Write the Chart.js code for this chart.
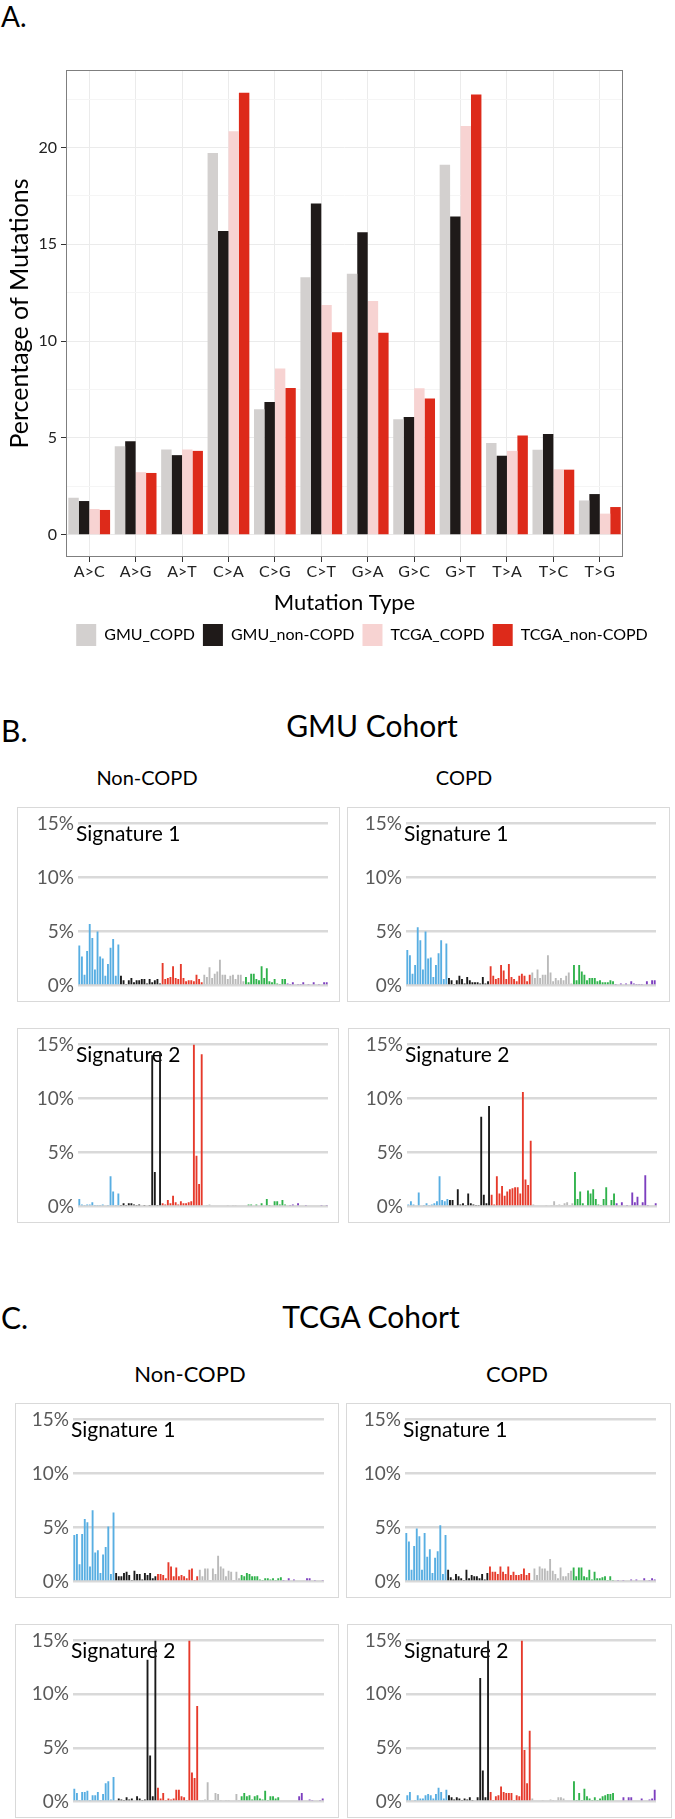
<!DOCTYPE html>
<html>
<head>
<meta charset="utf-8">
<script src="https://cdn.jsdelivr.net/npm/chart.js@4.4.0/dist/chart.umd.min.js"></script>
<style>
body { margin:0; width:675px; height:1819px; position:relative; background:#fff; font-family:Lato, sans-serif; overflow:hidden; }
.txt { position:absolute; line-height:1.2; white-space:nowrap; color:#000; }
.ctr { width:400px; text-align:center; }
.box { position:absolute; border:1px solid #d9d9d9; box-sizing:border-box; }
.box canvas { display:block; }
</style>
</head>
<body>
<div class="txt" style="left:1px;top:0px;font-size:28px">A.</div>
<div style="position:absolute;left:0;top:0"><canvas id="chartA" width="724" height="656"></canvas></div>

<div class="txt" style="left:1px;top:712px;font-size:30px">B.</div>
<div class="txt ctr" style="left:172px;top:707px;font-size:30px">GMU Cohort</div>
<div class="txt ctr" style="left:-53px;top:765px;font-size:20px">Non-COPD</div>
<div class="txt ctr" style="left:264px;top:765px;font-size:20px">COPD</div>

<div class="txt" style="left:1px;top:1299px;font-size:30px">C.</div>
<div class="txt ctr" style="left:171px;top:1298px;font-size:30px">TCGA Cohort</div>
<div class="txt ctr" style="left:-10px;top:1361px;font-size:22px">Non-COPD</div>
<div class="txt ctr" style="left:317px;top:1361px;font-size:22px">COPD</div>

<script>
// Panel A: percentage of mutations by substitution type
const mutationTypes = ['A>C', 'A>G', 'A>T', 'C>A', 'C>G', 'C>T', 'G>A', 'G>C', 'G>T', 'T>A', 'T>C', 'T>G'];
const gmuCopd     = [1.91, 4.57, 4.40, 19.71, 6.48, 13.30, 13.48, 5.97, 19.11, 4.74, 4.39, 1.77];
const gmuNonCopd  = [1.74, 4.83, 4.11, 15.68, 6.86, 17.11, 15.62, 6.08, 16.44, 4.08, 5.20, 2.10];
const tcgaCopd    = [1.33, 3.23, 4.40, 20.84, 8.58, 11.87, 12.07, 7.56, 21.11, 4.33, 3.38, 1.09];
const tcgaNonCopd = [1.28, 3.19, 4.33, 22.83, 7.58, 10.46, 10.43, 7.03, 22.74, 5.12, 3.36, 1.43];
const yTicksA = [0, 5, 10, 15, 20];
const yGridA = [0, 2.5, 5, 7.5, 10, 12.5, 15, 17.5, 20, 22.5];

// Panels B and C: 96 trinucleotide contexts, grouped by substitution
const substitutions = ['C>A', 'C>G', 'C>T', 'T>A', 'T>C', 'T>G'];
const flanks = ['A', 'C', 'G', 'T'];
const sigTicks = [0, 5, 10, 15];

const gmuNonCopdSig1 = [
  3.7, 2.7, 1.0, 3.2, 5.7, 4.4, 1.5, 5.0, 2.7, 2.5, 0.9, 2.0, 3.5, 4.3, 0.9, 3.8,
  0.9, 0.5, 0.1, 0.5, 0.7, 0.3, 0.5, 0.5, 0.6, 0.6, 0.2, 0.6, 0.3, 0.5, 0.6, 0.2,
  2.1, 0.6, 0.7, 0.8, 1.8, 0.7, 0.6, 2.0, 0.7, 0.4, 0.5, 0.5, 0.4, 1.0, 0.6, 0.3,
  1.0, 0.8, 1.7, 0.7, 1.1, 1.3, 2.4, 1.0, 1.0, 0.6, 0.9, 1.0, 0.6, 1.0, 1.0, 0.4,
  0.8, 0.3, 1.1, 1.1, 0.6, 0.5, 1.8, 0.7, 1.6, 0.4, 0.3, 0.6, 0.2, 0.1, 0.6, 0.6,
  0.2, 0.1, 0.3, 0.0, 0.1, 0.1, 0.3, 0.0, 0.1, 0.0, 0.3, 0.0, 0.1, 0.0, 0.3, 0.3];
const gmuCopdSig1 = [
  3.3, 2.8, 1.1, 1.9, 5.4, 4.2, 1.5, 5.0, 2.5, 2.6, 0.8, 1.9, 3.0, 4.2, 0.6, 3.9,
  0.7, 0.5, 0.1, 0.5, 0.9, 0.6, 0.2, 0.8, 0.5, 0.3, 0.3, 0.3, 0.2, 0.8, 0.2, 0.4,
  1.8, 0.9, 0.6, 0.7, 1.9, 1.4, 0.6, 2.0, 0.8, 0.6, 0.4, 0.9, 1.1, 0.9, 0.4, 1.0,
  1.2, 0.7, 1.5, 0.7, 1.0, 1.0, 2.8, 1.2, 0.4, 0.7, 0.5, 0.7, 0.5, 0.9, 1.2, 0.2,
  1.9, 0.5, 1.9, 1.3, 1.0, 0.5, 0.7, 0.7, 0.7, 0.4, 0.5, 0.3, 0.3, 0.3, 0.5, 0.4,
  0.1, 0.0, 0.2, 0.0, 0.2, 0.0, 0.4, 0.2, 0.1, 0.1, 0.1, 0.0, 0.4, 0.0, 0.5, 0.5];
const gmuNonCopdSig2 = [
  0.7, 0.2, 0.1, 0.2, 0.2, 0.4, 0.1, 0.1, 0.1, 0.2, 0.0, 0.1, 2.8, 1.4, 0.1, 1.2,
  0.1, 0.3, 0.1, 0.3, 0.3, 0.2, 0.1, 0.2, 0.0, 0.1, 0.0, 0.1, 14.0, 3.2, 0.1, 14.3,
  0.3, 0.2, 0.6, 0.3, 1.0, 0.4, 0.2, 0.5, 0.3, 0.3, 0.4, 0.5, 15.0, 4.7, 2.1, 14.1,
  0.0, 0.1, 0.2, 0.0, 0.0, 0.0, 0.0, 0.0, 0.0, 0.1, 0.0, 0.1, 0.1, 0.0, 0.0, 0.0,
  0.0, 0.2, 0.2, 0.0, 0.2, 0.0, 0.3, 0.0, 0.7, 0.1, 0.0, 0.5, 0.5, 0.2, 0.6, 0.2,
  0.0, 0.1, 0.2, 0.0, 0.3, 0.0, 0.0, 0.1, 0.0, 0.0, 0.0, 0.0, 0.0, 0.1, 0.0, 0.1];
const gmuCopdSig2 = [
  0.2, 0.5, 0.2, 0.0, 1.3, 0.0, 0.1, 0.3, 0.1, 0.2, 0.3, 0.5, 2.8, 0.6, 0.5, 0.7,
  0.6, 0.6, 0.0, 1.6, 0.2, 0.3, 0.1, 1.2, 0.3, 0.2, 0.1, 0.1, 8.3, 1.1, 0.3, 9.3,
  1.1, 0.2, 2.8, 1.2, 1.9, 1.0, 1.4, 1.6, 1.7, 1.8, 1.8, 1.2, 10.6, 2.5, 2.0, 6.1,
  0.2, 0.0, 0.0, 0.0, 0.0, 0.1, 0.0, 0.1, 0.5, 0.1, 0.2, 0.1, 0.3, 0.4, 0.1, 0.3,
  3.2, 0.7, 1.4, 0.3, 0.0, 1.5, 1.2, 1.6, 0.7, 0.2, 0.1, 0.7, 1.8, 0.0, 0.6, 1.2,
  0.3, 0.0, 0.4, 0.0, 0.1, 0.0, 1.3, 0.4, 0.9, 0.0, 0.4, 2.9, 0.1, 0.0, 0.0, 0.3];
const tcgaNonCopdSig1 = [
  4.3, 4.4, 1.6, 4.4, 5.8, 5.5, 1.4, 6.6, 2.7, 2.9, 0.8, 2.5, 3.2, 5.1, 0.7, 6.4,
  0.8, 0.5, 0.5, 0.8, 0.9, 0.6, 0.1, 1.0, 0.7, 0.7, 0.2, 0.8, 0.6, 0.8, 0.3, 0.5,
  0.7, 0.7, 0.6, 0.3, 1.8, 1.4, 0.5, 1.3, 0.5, 0.6, 0.5, 0.3, 1.1, 1.2, 0.1, 0.5,
  1.1, 0.5, 1.2, 1.2, 0.1, 1.2, 0.7, 2.4, 1.4, 1.2, 0.5, 1.0, 0.9, 0.1, 0.9, 0.3,
  0.6, 0.5, 0.8, 0.7, 0.5, 0.5, 0.5, 0.2, 0.1, 0.3, 0.3, 0.2, 0.3, 0.1, 0.3, 0.4,
  0.1, 0.0, 0.3, 0.0, 0.2, 0.0, 0.0, 0.0, 0.0, 0.3, 0.3, 0.0, 0.1, 0.0, 0.0, 0.1];
const tcgaCopdSig1 = [
  4.5, 3.7, 1.1, 3.3, 4.9, 4.2, 1.1, 4.5, 2.3, 3.0, 0.8, 2.2, 2.8, 5.2, 0.7, 4.3,
  1.1, 0.4, 0.2, 0.7, 0.5, 0.3, 0.1, 1.1, 0.3, 0.6, 0.5, 0.5, 0.3, 0.7, 0.2, 0.8,
  1.4, 0.9, 0.9, 0.7, 1.4, 0.9, 0.7, 1.4, 0.6, 0.9, 0.6, 0.6, 0.7, 1.2, 0.6, 0.8,
  0.1, 1.2, 0.6, 1.4, 1.2, 1.2, 1.0, 2.1, 1.0, 0.7, 0.3, 1.3, 0.5, 0.5, 0.8, 1.0,
  1.3, 0.5, 1.3, 1.3, 0.5, 0.4, 1.1, 0.2, 0.9, 0.3, 0.3, 0.4, 0.5, 0.1, 0.5, 0.1,
  0.0, 0.1, 0.0, 0.1, 0.0, 0.0, 0.2, 0.0, 0.2, 0.0, 0.0, 0.3, 0.0, 0.1, 0.3, 0.2];
const tcgaNonCopdSig2 = [
  1.2, 0.8, 0.1, 0.9, 0.9, 1.0, 0.1, 0.6, 0.6, 0.9, 0.1, 0.7, 1.7, 1.9, 0.2, 2.3,
  0.0, 0.3, 0.2, 0.1, 0.4, 0.2, 0.3, 0.0, 0.5, 0.3, 0.1, 0.2, 13.2, 4.3, 0.5, 15.0,
  1.3, 0.3, 0.8, 0.1, 0.3, 0.2, 0.3, 1.1, 1.1, 0.5, 0.4, 0.1, 15.0, 2.7, 2.2, 8.9,
  0.1, 0.1, 0.2, 1.8, 0.1, 0.1, 0.8, 0.7, 0.1, 0.0, 0.1, 0.1, 0.0, 0.0, 0.7, 0.1,
  0.5, 0.8, 0.5, 0.6, 0.2, 0.5, 0.6, 0.3, 0.2, 1.0, 0.1, 0.5, 0.5, 0.3, 0.4, 0.0,
  0.0, 0.0, 0.0, 0.0, 0.0, 0.0, 0.5, 0.8, 0.0, 0.0, 0.2, 0.1, 0.0, 0.0, 0.1, 0.3];
const tcgaCopdSig2 = [
  0.6, 0.9, 0.0, 0.1, 0.6, 0.3, 0.3, 0.6, 0.7, 0.6, 0.3, 0.7, 1.3, 0.9, 0.3, 1.1,
  0.6, 0.4, 0.2, 0.4, 0.3, 0.1, 0.3, 0.2, 0.4, 0.1, 0.0, 0.4, 11.5, 2.9, 0.4, 15.0,
  0.9, 0.1, 0.5, 0.6, 1.4, 0.9, 0.8, 0.8, 0.8, 0.1, 0.6, 0.5, 15.0, 4.8, 1.7, 6.6,
  0.3, 0.0, 0.0, 0.0, 0.1, 0.0, 0.0, 0.2, 0.1, 0.0, 0.4, 0.4, 0.3, 0.0, 0.0, 0.0,
  1.9, 0.1, 0.8, 0.1, 1.2, 0.5, 0.3, 0.1, 0.4, 0.1, 0.3, 0.5, 0.6, 0.7, 0.7, 0.8,
  0.0, 0.0, 0.0, 0.4, 0.0, 0.4, 0.4, 0.0, 0.0, 0.0, 0.3, 0.0, 0.0, 0.2, 0.3, 1.1];

const substitutionColors = ['#58aee2', '#1a1a1a', '#e63a2b', '#bababa', '#2fb24b', '#7d3fbf'];

Chart.defaults.font.family = 'Lato';

var signatureLabels = [];
var signatureColors = [];
substitutions.forEach((sub, i) => {
    flanks.forEach(left => {
        flanks.forEach(right => {
            signatureLabels.push(left + '[' + sub + ']' + right);
            signatureColors.push(substitutionColors[i]);
        });
    });
});

const panelBorder = {
    id: 'panelBorder',
    afterDatasetsDraw(chart, args, opts) {
        const a = chart.chartArea, ctx = chart.ctx;
        ctx.save();
        ctx.strokeStyle = opts.color;
        ctx.lineWidth = 1;
        ctx.strokeRect(a.left + 0.5, a.top + 0.5, a.width - 1, a.height - 1);
        ctx.restore();
    }
};

const sigLabel = {
    id: 'sigLabel',
    beforeDatasetsDraw(chart, args, opts) {
        const a = chart.chartArea, ctx = chart.ctx;
        ctx.save();
        ctx.font = '21px Lato';
        ctx.fillStyle = '#000';
        ctx.textBaseline = 'middle';
        ctx.fillText(opts.text, a.left - 2, a.top + 11);
        ctx.restore();
    }
};

// canvas runs past the page edge; an empty right axis keeps the plot narrow
// so the centred legend lands where the original has it
new Chart(document.getElementById('chartA'), {
    type: 'bar',
    data: {
        labels: mutationTypes,
        datasets: [
            { label: 'GMU_COPD', data: gmuCopd, backgroundColor: '#d3d0cf' },
            { label: 'GMU_non-COPD', data: gmuNonCopd, backgroundColor: '#1f1a19' },
            { label: 'TCGA_COPD', data: tcgaCopd, backgroundColor: '#f7d3d2' },
            { label: 'TCGA_non-COPD', data: tcgaNonCopd, backgroundColor: '#dd2a1a' },
        ]
    },
    options: {
        responsive: false,
        animation: false,
        layout: { padding: { top: 70, right: 0, left: 0, bottom: 0 } },
        datasets: { bar: { categoryPercentage: 0.9, barPercentage: 1.0 } },
        plugins: {
            legend: {
                position: 'bottom',
                align: 'center',
                labels: { boxWidth: 20, boxHeight: 22, padding: 8, color: '#000', font: { size: 16 } }
            },
            tooltip: { enabled: false },
            panelBorder: { color: '#7f7f7f' }
        },
        scales: {
            x: {
                grid: { offset: false, color: '#ebebeb', tickColor: '#333', tickLength: 5 },
                border: { display: false },
                ticks: { color: '#222', padding: 0, font: { size: 16 } },
                title: { display: true, text: 'Mutation Type', color: '#000', font: { size: 22 }, padding: { top: 0, bottom: 0 } },
                afterFit: s => { s.height = 59; }
            },
            y: {
                min: -1.15,
                max: 24,
                afterBuildTicks: s => { s.ticks = yGridA.map(v => ({ value: v })); },
                grid: {
                    color: c => yTicksA.includes(c.tick.value) ? '#ebebeb' : '#f5f5f5',
                    tickColor: c => yTicksA.includes(c.tick.value) ? '#333' : 'rgba(0,0,0,0)',
                    tickLength: 5
                },
                border: { display: false },
                ticks: {
                    color: '#222',
                    padding: 4,
                    font: { size: 16 },
                    callback: v => yTicksA.includes(v) ? v : ''
                },
                title: { display: true, text: 'Percentage of Mutations', color: '#000', font: { size: 25 }, padding: { top: 5, bottom: 0 } },
                afterFit: s => { s.width = 66; }
            },
            spacer: {
                position: 'right',
                grid: { display: false },
                border: { display: false },
                ticks: { display: false },
                afterFit: s => { s.width = 101; }
            }
        }
    },
    plugins: [panelBorder]
});

// box = outer frame, plot = [left, top, right, bottom] of the bar area
const signaturePanels = [
    { values: gmuNonCopdSig1,  name: 'Signature 1', box: [17, 807, 323, 195],  plot: [78, 820, 328, 986] },
    { values: gmuCopdSig1,     name: 'Signature 1', box: [347, 807, 323, 195], plot: [406, 820, 656, 986] },
    { values: gmuNonCopdSig2,  name: 'Signature 2', box: [17, 1028, 322, 195], plot: [78, 1042, 328, 1208] },
    { values: gmuCopdSig2,     name: 'Signature 2', box: [348, 1028, 322, 195], plot: [407, 1042, 657, 1208] },
    { values: tcgaNonCopdSig1, name: 'Signature 1', box: [15, 1403, 324, 195], plot: [73, 1417, 324, 1583] },
    { values: tcgaCopdSig1,    name: 'Signature 1', box: [346, 1403, 325, 195], plot: [405, 1417, 656, 1583] },
    { values: tcgaNonCopdSig2, name: 'Signature 2', box: [15, 1624, 324, 194], plot: [73, 1637, 324, 1803] },
    { values: tcgaCopdSig2,    name: 'Signature 2', box: [347, 1624, 325, 194], plot: [406, 1637, 656, 1803] },
];

signaturePanels.forEach(panel => {
    const [bx, by, bw, bh] = panel.box;
    const [pl, pt, pr, pb] = panel.plot;
    const holder = document.createElement('div');
    holder.className = 'box';
    holder.style.left = bx + 'px';
    holder.style.top = by + 'px';
    holder.style.width = bw + 'px';
    holder.style.height = bh + 'px';
    const canvas = document.createElement('canvas');
    canvas.width = bw - 2;
    canvas.height = bh - 2;
    holder.appendChild(canvas);
    document.body.appendChild(holder);

    const axisWidth = pl - bx - 1;
    new Chart(canvas, {
        type: 'bar',
        data: {
            labels: signatureLabels,
            datasets: [{
                data: panel.values,
                backgroundColor: signatureColors,
                categoryPercentage: 1.0,
                barPercentage: 0.72
            }]
        },
        options: {
            responsive: false,
            animation: false,
            layout: { padding: { top: pt - by - 1, right: bx + bw - 1 - pr, bottom: by + bh - 1 - pb, left: 0 } },
            plugins: {
                legend: { display: false },
                tooltip: { enabled: false },
                sigLabel: { text: panel.name }
            },
            scales: {
                x: { display: false },
                y: {
                    min: 0,
                    max: 15,
                    afterBuildTicks: s => { s.ticks = sigTicks.map(v => ({ value: v })); },
                    afterFit: s => { s.width = axisWidth; },
                    border: { display: false },
                    grid: { color: '#d9d9d9', lineWidth: 2.5, drawTicks: false },
                    ticks: { color: '#595959', padding: 4, font: { size: 19 }, callback: v => v + '%' }
                }
            }
        },
        plugins: [sigLabel]
    });
});
</script>
</body>
</html>
